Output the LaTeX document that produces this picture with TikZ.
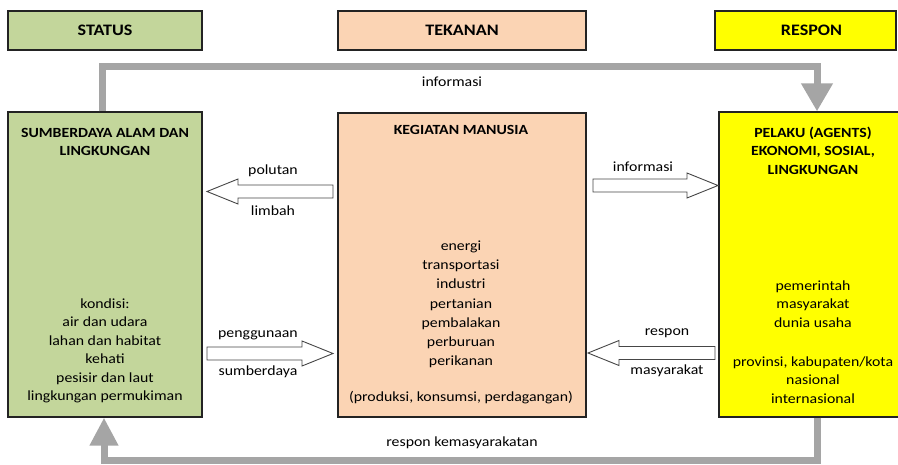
\documentclass[tikz,border=0pt]{standalone}
\usepackage{fontspec}
\setmainfont{Carlito}[FakeStretch=1.13]
\usetikzlibrary{arrows.meta,shadows}

\definecolor{statusgreen}{RGB}{195,214,155}
\definecolor{tekananpeach}{RGB}{251,212,180}
\definecolor{responyellow}{RGB}{255,255,0}
\definecolor{flowgray}{RGB}{165,165,165}
\definecolor{edgedark}{RGB}{35,35,35}
\definecolor{arrowedge}{RGB}{70,70,70}

\tikzset{
  panel/.style={draw=edgedark, line width=1.2pt, inner sep=0pt,
    drop shadow={shadow xshift=1.3pt, shadow yshift=-1.3pt, opacity=0.4, fill=black}},
  headbox/.style={panel, minimum height=39pt,
    font=\fontsize{16}{19}\selectfont\bfseries},
  bodybox/.style={panel},
  titletext/.style={align=center, inner sep=0pt,
    font=\fontsize{14}{18}\selectfont\bfseries},
  listtext/.style={align=center, inner sep=0pt,
    font=\fontsize{14}{18.5}\selectfont},
  lbl/.style={inner sep=0pt, font=\fontsize{14}{17}\selectfont},
  flow/.style={draw=flowgray, line width=7pt, line join=miter},
  blockarrow/.style={draw=arrowedge, fill=white, line width=0.9pt, line join=miter}
}

% hollow block arrow: #1 tail x, #2 tip x, #3 centre y
\newcommand{\hollowarrow}[3]{%
  \pgfmathsetmacro{\hd}{(#2>#1) ? -31 : 31}%
  \draw[blockarrow]
    (#1,#3-6.5) -- ({#2+\hd},#3-6.5) -- ({#2+\hd},#3-12.5) -- (#2,#3)
    -- ({#2+\hd},#3+12.5) -- ({#2+\hd},#3+6.5) -- (#1,#3+6.5) -- cycle;}

\begin{document}
\begin{tikzpicture}[x=1pt, y=-1pt]
  \useasboundingbox (0,0) rectangle (898,464);
  \clip (0,0) rectangle (898,464);

  % column headers
  \node[headbox, fill=statusgreen, minimum width=194pt] (hs) at (105,30.5) {STATUS};
  \node[headbox, fill=tekananpeach, minimum width=248pt] (ht) at (462,30.5) {TEKANAN};
  \node[headbox, fill=responyellow, minimum width=181pt] (hr) at (805.5,30.5) {\hspace{12pt}RESPON};

  % main panels
  \node[bodybox, fill=statusgreen, minimum width=194pt, minimum height=305pt] (green) at (105,264.5) {};
  \node[bodybox, fill=tekananpeach, minimum width=248pt, minimum height=304pt] (peach) at (462,265) {};
  \node[bodybox, fill=responyellow, minimum width=191pt, minimum height=305pt] (yellow) at (814.5,264.5) {};

  % panel texts
  \node[titletext] (gtitle) at (105,141.5) {SUMBERDAYA ALAM DAN\\LINGKUNGAN};
  \node[listtext] (glist) at (105,351) {kondisi:\\air dan udara\\lahan dan habitat\\kehati\\pesisir dan laut\\lingkungan permukiman};

  \node[titletext] (ptitle) at (461,130) {KEGIATAN MANUSIA};
  \node[listtext, font=\fontsize{14}{19.2}\selectfont] (plist) at (461,304.5) {energi\\transportasi\\industri\\pertanian\\pembalakan\\perburuan\\perikanan};
  \node[listtext] (pnote) at (461,398) {(produksi, konsumsi, perdagangan)};

  \node[titletext, font=\fontsize{14}{18.5}\selectfont\bfseries] (ytitle) at (813,150.5) {PELAKU (AGENTS)\\EKONOMI, SOSIAL,\\LINGKUNGAN};
  \node[listtext] (yactors) at (813,304) {pemerintah\\masyarakat\\dunia usaha};
  \node[listtext] (ylevels) at (813,380) {provinsi, kabupaten/kota\\nasional\\internasional};

  % feedback loop over the top
  \coordinate (tl) at (102,66.5);
  \coordinate (tr) at (817,66.5);
  \draw[flow, -{Triangle[width=30pt,length=28pt]}]
    (green.north -| tl) -- (tl) -- (tr) -- (yellow.north -| tr);
  \node[lbl] (infotop) at (452,82) {informasi};

  % feedback loop along the bottom
  \coordinate (bl) at (104,460);
  \coordinate (br) at (817,460);
  \draw[flow, -{Triangle[width=27pt,length=28pt]}]
    (yellow.south -| br) -- (br) -- (bl) -- (green.south -| bl);
  \node[lbl] (respbot) at (462,443) {respon kemasyarakatan};

  % hollow arrows between the panels
  \hollowarrow{333}{207}{191.5}
  \node[lbl] at (273,171) {polutan};
  \node[lbl] at (273,211) {limbah};

  \hollowarrow{593}{718}{185.5}
  \node[lbl] at (643,167) {informasi};

  \hollowarrow{207}{333}{353.5}
  \node[lbl] at (258,335) {penggunaan};
  \node[lbl] at (258,372) {sumberdaya};

  \hollowarrow{715}{588}{353}
  \node[lbl] at (667,333) {respon};
  \node[lbl] at (667,371) {masyarakat};
\end{tikzpicture}
\end{document}
